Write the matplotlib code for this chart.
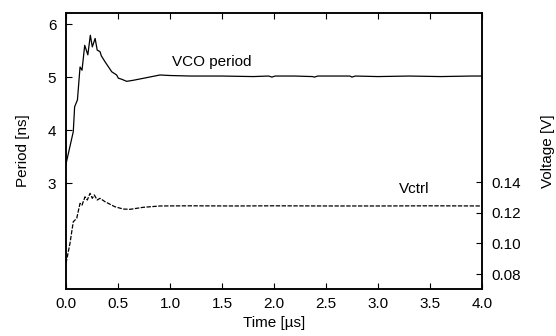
import matplotlib
matplotlib.use("Agg")
import matplotlib.pyplot as plt

plt.rcParams['font.family'] = ['Liberation Sans', 'DejaVu Sans']
plt.rcParams['font.size'] = 11

# VCO period [ns] vs time [us]
t_period = [0, 0.07, 0.083, 0.11, 0.135, 0.154, 0.18, 0.21, 0.234, 0.253, 0.28,
            0.30, 0.327, 0.34, 0.375, 0.44, 0.487, 0.503, 0.535, 0.583, 0.647,
            0.776, 0.904, 1.0, 1.2, 1.5, 1.8, 1.95, 1.98, 2.01, 2.2, 2.37, 2.39,
            2.42, 2.6, 2.73, 2.75, 2.78, 3.0, 3.3, 3.6, 3.9, 4.0]
period = [3.36, 3.97, 4.44, 4.57, 5.19, 5.13, 5.60, 5.42, 5.79, 5.57, 5.73,
          5.51, 5.48, 5.40, 5.29, 5.10, 5.04, 4.98, 4.96, 4.92, 4.94,
          4.99, 5.04, 5.03, 5.02, 5.02, 5.01, 5.02, 5.00, 5.02, 5.02, 5.01, 5.00,
          5.02, 5.02, 5.02, 5.00, 5.02, 5.01, 5.02, 5.01, 5.02, 5.02]

# control voltage [V] vs time [us]
t_vctrl = [0, 0.038, 0.07, 0.103, 0.135, 0.154, 0.183, 0.205, 0.231, 0.253,
           0.272, 0.30, 0.327, 0.375, 0.47, 0.55, 0.615, 0.74, 0.904, 1.2, 1.6,
           2.0, 2.5, 3.0, 3.5, 4.0]
vctrl = [0.087, 0.100, 0.1142, 0.1164, 0.1262, 0.1251, 0.1305, 0.1284, 0.1328,
         0.1295, 0.1317, 0.1284, 0.1295, 0.1273, 0.1240, 0.1225, 0.1223, 0.1236,
         0.1245, 0.1246, 0.1245, 0.1246, 0.1245, 0.1245, 0.1246, 0.1245]

fig = plt.figure(figsize=(5.56, 3.36), dpi=100)
ax = fig.add_axes([66/556, 1-289/336, 416/556, 276/336])
ax2 = ax.twinx()

ax.plot(t_period, period, color='black', lw=0.9)
ax2.plot(t_vctrl, vctrl, color='black', lw=0.9, dashes=(3.5, 1.2))

ax.set_xlim(0, 4.0)
ax.set_ylim(1.0, 6.21)
ax2.set_ylim(0.0702, 0.2507)

ax.set_xticks([0, 0.5, 1.0, 1.5, 2.0, 2.5, 3.0, 3.5, 4.0])
ax.set_xticklabels(['0.0', '0.5', '1.0', '1.5', '2.0', '2.5', '3.0', '3.5', '4.0'])
ax.set_yticks([3, 4, 5, 6])
ax2.set_yticks([0.08, 0.10, 0.12, 0.14])
ax2.set_yticklabels(['0.08', '0.10', '0.12', '0.14'])

ax.tick_params(axis='x', direction='in', top=True, length=4.5, width=0.8, pad=6)
ax.tick_params(axis='y', direction='in', left=True, right=False, length=4.5, width=0.8, pad=7)
ax2.tick_params(axis='y', direction='in', right=True, left=False, length=4.5, width=0.8, pad=7)

for a in (ax, ax2):
    for s in a.spines.values():
        s.set_linewidth(1.1)

ax.set_xlabel('Time [µs]', labelpad=3)
ax.set_ylabel('Period [ns]', labelpad=13)
ax2.set_ylabel('Voltage [V]', labelpad=14)

ax.text(1.40, 5.28, 'VCO period', ha='center', va='center')
ax.text(3.35, 2.89, 'Vctrl', ha='center', va='center')

fig.savefig('out.png', dpi=100)
